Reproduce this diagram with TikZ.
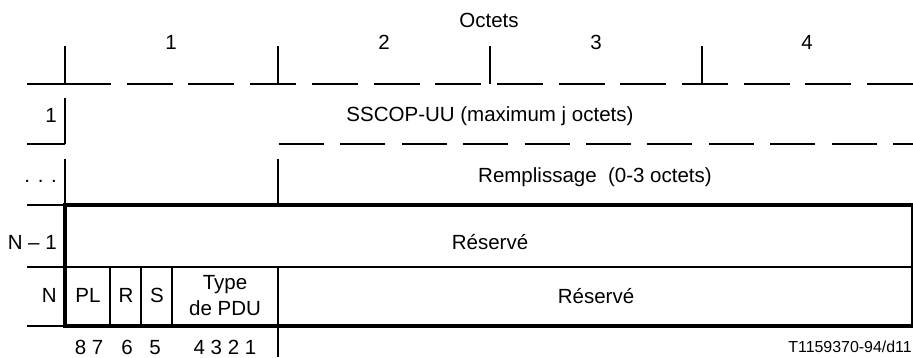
\documentclass[tikz,border=0pt]{standalone}
\usepackage{fontspec}
\setmainfont{Liberation Sans}
\usepackage{tikz}

\begin{document}
\begin{tikzpicture}[x=0.3mm,y=-0.3mm,
  rule/.style={line width=0.9pt},
  heavy/.style={line width=2.6pt},
  txt/.style={font=\fontsize{17.5}{21}\selectfont,inner sep=0pt,anchor=base}]
\useasboundingbox (0,0) rectangle (913,357);

% Octet header
\node[txt] (octets) at (489,27) {Octets};
\node[txt] (oct1) at (171,49) {1};
\node[txt] (oct2) at (384,49) {2};
\node[txt] (oct3) at (596,49) {3};
\node[txt] (oct4) at (807,49) {4};
\foreach \x in {65,278,490,702}
  \draw[rule] (\x,46) -- (\x,84);
\draw[rule] (27,84) -- (65,84);
\draw[rule,dash pattern=on 13.8mm off 4.71mm] (65,84) -- (913,84);

% Row 1
\node[txt,anchor=base east] (row1) at (57,122) {1};
\draw[rule] (65,98) -- (65,144);
\draw[rule] (27,144) -- (65,144);
\draw[rule,dash pattern=on 13.5mm off 4.92mm] (279,144) -- (913,144);
\node[txt] (sscop) at (490,121) {SSCOP-UU (maximum j octets)};

% Padding row
\node[txt,anchor=base east] (rowdots) at (57,182) {. . .};
\draw[rule] (65,159) -- (65,205);
\draw[rule] (278,159) -- (278,205);
\node[txt] (padding) at (595,182) {Remplissage\ \ (0-3 octets)};

% Trailer rows N-1 and N
\draw[rule] (27,205) -- (65,205);
\draw[rule] (27,267) -- (913,267);
\draw[rule] (27,326) -- (65,326);
\foreach \x in {110,141,172,278}
  \draw[rule] (\x,267) -- (\x,326);
\draw[rule] (278,326) -- (278,357);
\draw[heavy] (913,205) -- (65,205) -- (65,326) -- (913,326);
\draw[rule] (912,205) -- (912,326);

\node[txt,anchor=base east] (rowNm1) at (57,249) {N -- 1};
\node[txt] (resA) at (490,249) {Réservé};

\node[txt,anchor=base east] (rowN) at (57,302) {N};
\node[txt] (pl) at (88,302) {PL};
\node[txt] (rbit) at (126,302) {R};
\node[txt] (sbit) at (157,302) {S};
\node[txt] (type) at (225,289) {Type};
\node[txt] (pdu) at (225,315) {de PDU};
\node[txt] (resB) at (596,303) {Réservé};

% Bit numbers
\node[txt] (b87) at (89,354) {8 7};
\node[txt] (b6) at (127,354) {6};
\node[txt] (b5) at (155,354) {5};
\node[txt] (b4321) at (225,354) {4 3 2 1};

\node[txt,anchor=base east,font=\fontsize{13.6}{16}\selectfont] (figid) at (912,352) {T1159370-94/d11};
\end{tikzpicture}
\end{document}
